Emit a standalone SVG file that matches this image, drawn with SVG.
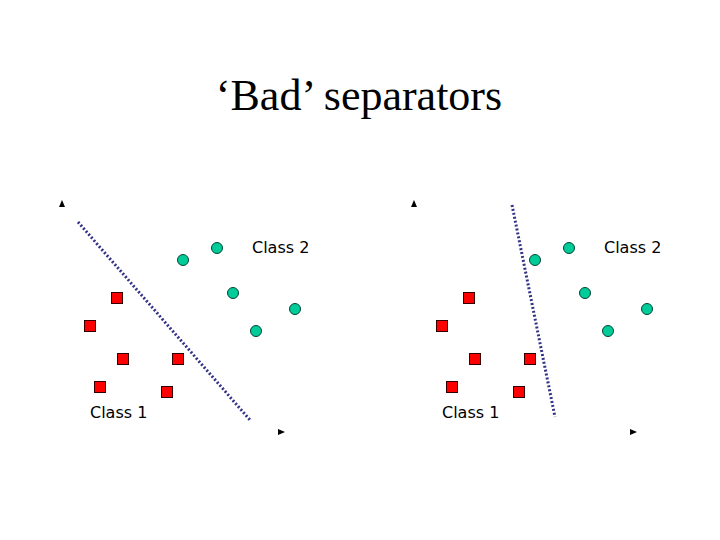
<svg xmlns="http://www.w3.org/2000/svg" width="720" height="540" viewBox="0 0 720 540">
<style>
.sq{fill:#ff0000;stroke:#330000;stroke-width:1}
.ci{fill:#00cc99;stroke:#004433;stroke-width:1}
.lb{font-family:Verdana,"DejaVu Sans",sans-serif;font-size:16px;fill:#000}
.sep{stroke:#333388;stroke-width:3;stroke-dasharray:2,2;fill:none}
</style>
<defs>
<g id="panel">
<rect class="sq" x="111.5" y="292.5" width="11" height="11"/>
<rect class="sq" x="84.5" y="320.5" width="11" height="11"/>
<rect class="sq" x="117.5" y="353.5" width="11" height="11"/>
<rect class="sq" x="172.5" y="353.5" width="11" height="11"/>
<rect class="sq" x="94.5" y="381.5" width="11" height="11"/>
<rect class="sq" x="161.5" y="386.5" width="11" height="11"/>
<circle class="ci" cx="183" cy="260" r="5.5"/>
<circle class="ci" cx="217" cy="248" r="5.5"/>
<circle class="ci" cx="233" cy="293" r="5.5"/>
<circle class="ci" cx="295" cy="309" r="5.5"/>
<circle class="ci" cx="256" cy="331" r="5.5"/>
<path d="M59,207 L62,200 L65,207 Z" fill="#000"/>
<path d="M278,429 L285,432 L278,435 Z" fill="#000"/>
<text class="lb" x="252" y="253">Class 2</text>
<text class="lb" x="90" y="418">Class 1</text>
</g>
</defs>
<text x="359" y="110" text-anchor="middle" font-family="Liberation Serif,serif" font-size="44">‘Bad’ separators</text>
<g id="left"><use href="#panel"/></g>
<g id="right"><use href="#panel" transform="translate(352,0)"/></g>
<g id="connectors">
<line class="sep" x1="78" y1="222" x2="250" y2="420"/>
<line class="sep" x1="512" y1="205" x2="555" y2="417"/>
</g>
</svg>
